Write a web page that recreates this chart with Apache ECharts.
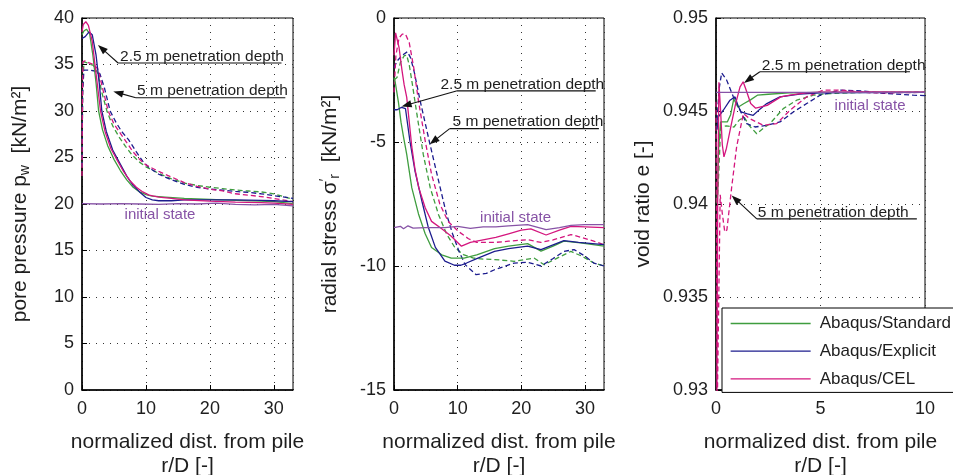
<!DOCTYPE html>
<html><head><meta charset="utf-8">
<script src="https://cdn.jsdelivr.net/npm/echarts@6/dist/echarts.min.js"></script>
<style>html,body{margin:0;padding:0;background:#fff}#c{width:953px;height:475px}</style>
</head><body><div id="c"></div>
<script>
// ---------- DATA ----------
// Panel 1: pore pressure p_w [kN/m²] vs r/D
const pwStd25 = [[0,38.2],[0.3,38.6],[0.7,38.8],[1.2,38.3],[1.7,36.0],[2.2,33.0],[2.6,30.0],[3.2,28.0],[4.0,26.3],[5.0,24.8],[6.0,23.6],[7.0,22.6],[8.0,21.8],[9.0,21.3],[10,21.0],[11,20.85],[13,20.75],[16,20.6],[20,20.5],[24,20.4],[28,20.3],[30,20.25],[33,20.05]];
const pwExp25 = [[0,37.8],[0.5,38.0],[1.1,38.5],[1.6,38.2],[2.2,36.0],[2.7,33.0],[3.1,30.0],[3.8,27.8],[4.8,25.8],[5.9,24.4],[7,23.0],[8,22.0],[9,21.3],[10,20.7],[11,20.45],[12,20.35],[14,20.35],[16,20.45],[20,20.45],[24,20.45],[28,20.4],[30,20.35],[33,20.25]];
const pwCel25 = [[0,38.5],[0.2,39.3],[0.6,39.6],[1.0,39.2],[1.6,37.5],[2.2,34.0],[2.9,30.0],[3.6,27.8],[4.5,26.0],[5.5,24.7],[6.5,23.5],[7.5,22.5],[8.5,21.8],[9.5,21.3],[10.5,20.95],[12,20.75],[14,20.6],[16,20.45],[20,20.3],[24,20.2],[28,20.15],[30,20.1],[33,19.95]];
const pwStd5 = [[0,24],[0.1,32],[0.3,35.3],[1,35.1],[1.8,34.9],[2.5,34.0],[3.1,32.0],[3.9,30.0],[4.8,28.4],[5.8,27.2],[6.8,26.2],[7.8,25.3],[9,24.5],[10,24.0],[12,23.3],[14,22.7],[16,22.25],[18,22.0],[20,21.8],[22,21.65],[24,21.5],[26,21.4],[28,21.3],[30,21.1],[33,20.5]];
const pwExp5 = [[0,24],[0.1,32],[0.3,34.4],[1,34.4],[2,34.3],[2.8,34.0],[3.5,32.5],[4.4,30.0],[5.3,28.8],[6.2,27.8],[7.3,26.9],[8.5,25.6],[9.5,24.6],[10.5,23.9],[12,23.2],[14,22.6],[16,22.1],[18,21.8],[20,21.6],[22,21.5],[24,21.35],[26,21.25],[28,21.1],[30,20.9],[33,20.6]];
const pwCel5 = [[0,23],[0.05,30],[0.15,35.3],[0.5,35.4],[1,35.2],[1.8,35.0],[2.5,34.5],[3.2,32.5],[4.1,30.0],[5,28.6],[6,27.6],[7,26.6],[8,25.6],[9,24.8],[10,24.2],[12,23.5],[14,22.9],[16,22.3],[18,21.9],[20,21.6],[22,21.4],[24,21.1],[26,20.95],[28,20.8],[30,20.6],[33,20.25]];
const pwInit = [[0,20.05],[3,20.0],[6,20.05],[9,20.0],[12,19.95],[15,20.05],[18,20.0],[21,20.1],[24,19.95],[27,19.9],[30,19.95],[33,19.8]];

// Panel 2: radial stress sigma'_r [kN/m²] vs r/D
const srStd25 = [[0,-2.4],[0.2,-2.6],[0.7,-3.4],[1.1,-4.2],[1.5,-4.8],[2.0,-5.5],[2.8,-6.85],[3.85,-7.9],[4.9,-8.7],[5.9,-9.25],[7.5,-9.55],[9,-9.68],[11,-9.68],[13,-9.55],[15.8,-9.3],[18,-9.2],[21,-9.1],[23.1,-9.4],[25,-9.2],[26.7,-9.0],[29.3,-9.07],[33,-9.2]];
const srExp25 = [[0,-3.7],[0.5,-3.7],[1.2,-3.6],[1.8,-3.65],[2.5,-4.96],[3.3,-6.17],[4.4,-7.4],[5.4,-8.45],[6.5,-9.25],[8,-9.8],[9.5,-9.97],[10.5,-9.97],[11.4,-9.88],[13,-9.7],[15.8,-9.41],[18,-9.3],[21,-9.2],[23.1,-9.34],[25,-9.15],[26.7,-8.98],[29,-9.05],[33,-9.14]];
const srCel25 = [[0,-1.5],[0.25,-0.6],[0.5,-0.58],[0.8,-1.2],[1.25,-2.1],[1.6,-2.7],[2.0,-3.2],[2.4,-4.2],[2.8,-5.2],[3.3,-6.1],[3.9,-6.85],[4.9,-7.65],[5.9,-8.2],[7.5,-8.5],[9,-8.8],[10.6,-9.2],[12,-9.05],[14,-8.95],[16,-8.85],[18,-8.7],[20,-8.55],[21.5,-8.5],[23.9,-8.75],[26,-8.55],[27.8,-8.4],[30,-8.42],[33,-8.45]];
const srStd5 = [[0,-2.5],[0.47,-2.4],[1.0,-1.8],[1.6,-1.52],[2.0,-1.5],[2.4,-1.9],[2.8,-2.53],[3.6,-3.88],[4.6,-5.5],[5.7,-6.85],[7.0,-7.93],[8.3,-8.73],[9.6,-9.27],[10.9,-9.54],[12.5,-9.68],[14,-9.72],[15.8,-9.74],[18.9,-9.81],[22,-9.68],[23.6,-9.95],[25.5,-9.7],[27.8,-9.41],[29.5,-9.6],[31.4,-9.88],[33,-10.0]];
const srExp5 = [[0,-2.0],[0.5,-1.73],[1.3,-1.5],[2.1,-1.36],[2.6,-1.6],[3.2,-2.2],[4.06,-3.28],[5.6,-5.03],[7.2,-6.78],[8.2,-7.86],[9.2,-8.7],[10.2,-9.4],[11.2,-9.95],[12.9,-10.35],[14.5,-10.3],[15.8,-10.15],[18.9,-9.88],[21,-9.85],[23.1,-10.0],[25,-9.7],[26.7,-9.41],[28.3,-9.34],[30,-9.6],[31.4,-9.88],[33,-10.0]];
const srCel5 = [[0,-3.0],[0.3,-1.5],[0.8,-0.8],[1.3,-0.65],[1.8,-0.65],[2.4,-1.0],[3.1,-2.0],[3.85,-3.35],[4.9,-4.95],[5.9,-6.3],[7.2,-7.5],[8.5,-8.2],[10.1,-8.6],[11.7,-8.9],[13,-9.05],[15.8,-9.05],[18,-9.0],[21,-8.94],[23.1,-9.05],[25,-8.95],[27.8,-8.73],[29.5,-8.85],[31.4,-9.0],[33,-9.14]];
const srInit = [[0,-8.45],[1,-8.4],[1.5,-8.5],[2.2,-8.38],[3,-8.47],[5,-8.45],[8,-8.45],[10,-8.4],[12,-8.48],[14,-8.42],[16,-8.42],[18,-8.38],[21,-8.33],[23.9,-8.53],[26,-8.45],[27.8,-8.36],[30,-8.33],[33,-8.33]];

// Panel 3: void ratio e [-] vs r/D
const eStd25 = [[0.06,0.940],[0.11,0.94271],[0.19,0.94396],[0.22,0.94441],[0.54,0.94441],[0.7,0.9448],[0.85,0.94565],[0.91,0.9457],[1.05,0.9452],[1.34,0.9454],[1.65,0.9456],[1.98,0.94585],[2.5,0.9459],[3.5,0.94597],[5,0.946],[10,0.946]];
const eExp25 = [[0.05,0.9440],[0.11,0.94468],[0.35,0.94504],[0.67,0.94558],[0.91,0.94576],[1.05,0.9453],[1.2,0.94495],[1.5,0.94485],[1.78,0.94477],[2.1,0.9451],[2.43,0.9454],[3.06,0.94576],[4.0,0.94591],[5,0.94598],[10,0.946]];
const eCel25 = [[0.04,0.929],[0.08,0.940],[0.14,0.94655],[0.22,0.9450],[0.3,0.9432],[0.38,0.94253],[0.5,0.9430],[0.7,0.9441],[0.94,0.9454],[1.15,0.9463],[1.3,0.94657],[1.45,0.9461],[1.66,0.9454],[1.9,0.94515],[2.45,0.9453],[3.1,0.94576],[3.54,0.94585],[4.3,0.94597],[5,0.94602],[7,0.94603],[10,0.94602]];
const eStd5 = [[0.08,0.9405],[0.14,0.94181],[0.22,0.94414],[0.5,0.9442],[0.86,0.94414],[1.1,0.9445],[1.34,0.94468],[1.6,0.9442],[1.95,0.94378],[2.3,0.9441],[2.58,0.94432],[3.22,0.94513],[3.86,0.94558],[4.66,0.94585],[5.5,0.94594],[7,0.946],[10,0.946]];
const eExp5 = [[0.05,0.9445],[0.15,0.9462],[0.27,0.94705],[0.51,0.94666],[0.83,0.94576],[1.15,0.94504],[1.47,0.94432],[1.87,0.94414],[2.43,0.94423],[3.06,0.94441],[3.7,0.94495],[4.34,0.9454],[4.98,0.94585],[5.93,0.94612],[7,0.94608],[8,0.94595],[9.44,0.94585],[10,0.94583]];
const eCel5 = [[0.0,0.9455],[0.06,0.929],[0.12,0.929],[0.2,0.9405],[0.3,0.9395],[0.42,0.9385],[0.52,0.9386],[0.75,0.9409],[0.99,0.9431],[1.31,0.94486],[1.6,0.9446],[2.26,0.94423],[2.9,0.94432],[3.54,0.94504],[4.34,0.94576],[5.13,0.94612],[6,0.94612],[7.5,0.94597],[10,0.946]];
const eInit = [[0,0.946],[10,0.946]];

const legendNames = ['Abaqus/Standard','Abaqus/Explicit','Abaqus/CEL'];
const initLabel = 'initial state';
const depth25Label = '2.5 m penetration depth';
const depth5Label = '5 m penetration depth';

// ---------- STYLE ----------
const FONT = '"Liberation Sans", Arial, Helvetica, sans-serif';
const C = { std:'#3f9d3f', exp:'#1c1c8e', cel:'#d4167e', init:'#8753a6', txt:'#1e1e1e' };

const chart = echarts.init(document.getElementById('c'));

function mk(name, data, gi, color, dashed){
  return { type:'line', name, data, xAxisIndex:gi, yAxisIndex:gi, symbol:'none', silent:true,
    lineStyle:{ color, width:1.3, type: dashed ? [5,3] : 'solid' }, itemStyle:{color}, z: dashed?2:3 };
}

const grids = [
  {left:82, top:18, width:211, height:372},
  {left:394, top:18, width:210, height:372},
  {left:716, top:18, width:209, height:372}
].map(g => Object.assign(g, {show:true, borderColor:'#000', borderWidth:1, backgroundColor:'#fff', containLabel:false, outerBoundsMode:'none'}));

const splitLine = {show:true, lineStyle:{color:'#333', width:1, type:[1,6]}};
const axisLine = {show:true, onZero:false, lineStyle:{color:'#000', width:1.5}};
const axisTick = {show:true, inside:true, length:5, lineStyle:{color:'#000'}};
const tickLabel = {color:C.txt, fontFamily:FONT, fontSize:18};
const nameStyle = {color:C.txt, fontFamily:FONT, fontSize:21, lineHeight:24,
  rich:{ s:{fontFamily:FONT, fontSize:14, lineHeight:14, verticalAlign:'bottom', color:C.txt},
         p:{fontFamily:FONT, fontSize:14, lineHeight:14, verticalAlign:'top', color:C.txt} }};

const xName = 'normalized dist. from pile\nr/D [-]';
function xAx(gi, max, interval){
  return { type:'value', gridIndex:gi, min:0, max, interval, splitLine, axisLine, axisTick,
    axisLabel:Object.assign({margin:10, showMaxLabel: max%interval===0}, tickLabel),
    name:xName, nameLocation:'middle', nameGap:40, nameTextStyle:nameStyle };
}
function yAx(gi, min, max, interval, name, gap, fmt){
  return { type:'value', gridIndex:gi, min, max, interval, splitLine, axisLine, axisTick,
    axisLabel:Object.assign({margin:8, formatter:fmt}, tickLabel),
    name, nameLocation:'middle', nameGap:gap, nameRotate:90, nameTextStyle:nameStyle };
}

const series = [
  mk(legendNames[0], pwStd25, 0, C.std, false), mk(legendNames[1], pwExp25, 0, C.exp, false), mk(legendNames[2], pwCel25, 0, C.cel, false),
  mk(legendNames[0], pwStd5, 0, C.std, true), mk(legendNames[1], pwExp5, 0, C.exp, true), mk(legendNames[2], pwCel5, 0, C.cel, true),
  mk(initLabel, pwInit, 0, C.init, false),
  mk(legendNames[0], srStd25, 1, C.std, false), mk(legendNames[1], srExp25, 1, C.exp, false), mk(legendNames[2], srCel25, 1, C.cel, false),
  mk(legendNames[0], srStd5, 1, C.std, true), mk(legendNames[1], srExp5, 1, C.exp, true), mk(legendNames[2], srCel5, 1, C.cel, true),
  mk(initLabel, srInit, 1, C.init, false),
  mk(legendNames[0], eStd25, 2, C.std, false), mk(legendNames[1], eExp25, 2, C.exp, false), mk(legendNames[2], eCel25, 2, C.cel, false),
  mk(legendNames[0], eStd5, 2, C.std, true), mk(legendNames[1], eExp5, 2, C.exp, true), mk(legendNames[2], eCel5, 2, C.cel, true),
  mk(initLabel, eInit, 2, C.init, false)
];

chart.setOption({
  animation:false,
  backgroundColor:'#fff',
  grid:grids,
  xAxis:[ xAx(0,33,10), xAx(1,33,10), xAx(2,10,5) ],
  yAxis:[
    yAx(0, 0, 40, 5, '{a|pore pressure p}{s|w}  [kN/m²]', 50),
    yAx(1, -15, 0, 5, 'radial stress σ{p|′}{s|r}  [kN/m²]', 52),
    yAx(2, 0.93, 0.95, 0.005, 'void ratio e [-]', 61, v => String(+(+v).toFixed(3)))
  ],
  legend:{ data:legendNames, orient:'vertical', left:722, top:308, itemWidth:80, itemHeight:14, itemGap:10.7,
    padding:[7,8,5,8], backgroundColor:'#fff', borderColor:'#000', borderWidth:1, borderRadius:0,
    itemStyle:{opacity:0}, lineStyle:{width:1.3},
    textStyle:{fontFamily:FONT, fontSize:17, color:C.txt, padding:[0,0,0,4]}, selectedMode:false },
  series
});

// ---------- ANNOTATIONS (in data coordinates) ----------
const annots = [
  {g:0, text:depth25Label, tip:[2.5,37.1], elbow:[5.64,35.16], end:[31.2,35.16], tx:5.96},
  {g:0, text:depth5Label, tip:[4.9,32.1], elbow:[8.42,31.43], end:[31.8,31.43], tx:8.6},
  {g:1, text:depth25Label, tip:[1.2,-3.57], elbow:[9.8,-2.94], end:[31.7,-2.94], tx:7.3},
  {g:1, text:depth5Label, tip:[5.6,-5.09], elbow:[8.75,-4.46], end:[32.2,-4.46], tx:9.2},
  {g:2, text:depth25Label, tip:[1.34,0.94651], elbow:[2.1,0.94711], end:[9.28,0.94711], tx:2.19},
  {g:2, text:depth5Label, tip:[0.75,0.94046], elbow:[1.95,0.9392], end:[9.61,0.9392], tx:2.0}
];
const initTexts = [ {g:0, at:[12.2,18.8]}, {g:1, at:[19.1,-8.05]}, {g:2, at:[7.37,0.94526]} ];

function px(g, p){ return chart.convertToPixel({gridIndex:g}, p); }
const gfx = [];
annots.forEach(a => {
  const T = px(a.g, a.tip), E = px(a.g, a.elbow), N = px(a.g, a.end), X = px(a.g, [a.tx, a.elbow[1]]);
  const dx = T[0]-E[0], dy = T[1]-E[1], L = Math.hypot(dx,dy), ux = dx/L, uy = dy/L;
  const hl = 10, hw = 3.6;
  const bx = T[0]-ux*hl, by = T[1]-uy*hl;
  gfx.push({type:'line', silent:true, z:50, shape:{x1:E[0], y1:E[1], x2:bx+ux*2, y2:by+uy*2}, style:{stroke:'#111', lineWidth:1.1}});
  gfx.push({type:'line', silent:true, z:50, shape:{x1:E[0], y1:E[1], x2:N[0], y2:N[1]}, style:{stroke:'#111', lineWidth:1.1}});
  gfx.push({type:'polygon', silent:true, z:50, shape:{points:[[T[0],T[1]],[bx-uy*hw, by+ux*hw],[bx+uy*hw, by-ux*hw]]}, style:{fill:'#111'}});
  gfx.push({type:'text', silent:true, z:50, x:X[0], y:E[1]+1.5, style:{text:a.text, font:'15.5px '+FONT, fill:C.txt, align:'left', verticalAlign:'bottom'}});
});
initTexts.forEach(t => {
  const P = px(t.g, t.at);
  gfx.push({type:'text', silent:true, z:50, x:P[0], y:P[1], style:{text:initLabel, font:'15px '+FONT, fill:C.init, align:'center', verticalAlign:'middle'}});
});
chart.setOption({graphic:gfx});
</script></body></html>
